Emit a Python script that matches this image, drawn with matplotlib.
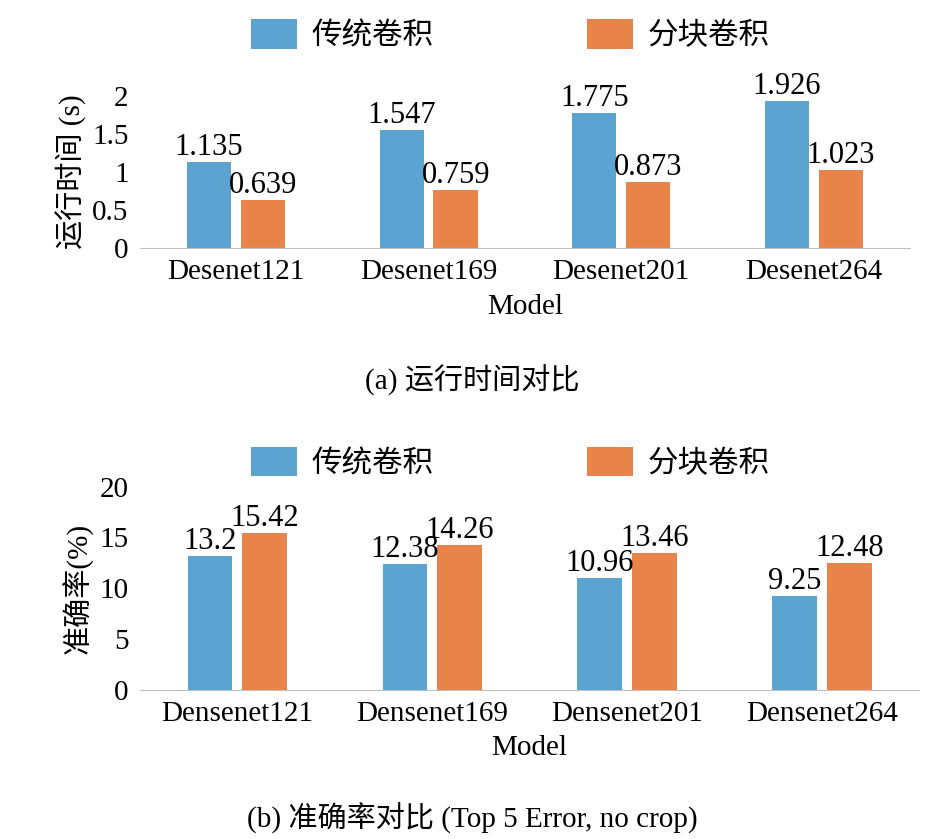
import matplotlib
matplotlib.use("Agg")
import matplotlib.pyplot as plt
import numpy as np

plt.rcParams['font.family'] = ['Liberation Serif', 'Noto Sans CJK SC']

models = ["Desenet121", "Desenet169", "Desenet201", "Desenet264"]
models_b = ["Densenet121", "Densenet169", "Densenet201", "Densenet264"]
time_trad = [1.135, 1.547, 1.775, 1.926]
time_block = [0.639, 0.759, 0.873, 1.023]
time_trad_lbl = ["1.135", "1.547", "1.775", "1.926"]
time_block_lbl = ["0.639", "0.759", "0.873", "1.023"]
acc_trad = [13.2, 12.38, 10.96, 9.25]
acc_block = [15.42, 14.26, 13.46, 12.48]
acc_trad_lbl = ["13.2", "12.38", "10.96", "9.25"]
acc_block_lbl = ["15.42", "14.26", "13.46", "12.48"]
series = ["传统卷积", "分块卷积"]
blue, orange = "#5BA3D1", "#E8844A"

fig = plt.figure(figsize=(9.45, 8.39), dpi=100)

def panel(rect, xl, a, b, al, bl, ylim, yticks, ylabel, caption, capy, legy):
    ax = fig.add_axes(rect)
    x = np.arange(len(xl))
    w, off = 0.23, 0.14
    r1 = ax.bar(x - off, a, w, color=blue, label=series[0])
    r2 = ax.bar(x + off, b, w, color=orange, label=series[1])
    ax.bar_label(r1, labels=al, fontsize=22, padding=0)
    ax.bar_label(r2, labels=bl, fontsize=22, padding=0)
    ax.set_xlim(-0.5, len(xl) - 0.5)
    ax.set_ylim(*ylim)
    ax.set_yticks(yticks)
    ax.set_yticklabels([f"{t:g}" for t in yticks])
    ax.set_xticks(x)
    ax.set_xticklabels(xl)
    ax.tick_params(axis='both', length=0, labelsize=21, pad=8)
    for s in ['top', 'right', 'left']:
        ax.spines[s].set_visible(False)
    ax.spines['bottom'].set_color('#BFBFBF')
    ax.set_ylabel(ylabel, fontsize=21)
    ax.set_xlabel("Model", fontsize=21, labelpad=6)
    fig.text(0.5, capy, caption, ha='center', va='center', fontsize=21)
    fig.legend(handles=[r1, r2], loc='center', bbox_to_anchor=(0.54, legy), ncol=2,
               frameon=False, fontsize=22, handlelength=1.5, handleheight=1.1,
               handletextpad=0.5, columnspacing=5)
    return ax

panel([0.148, 0.704, 0.815, 0.182], models, time_trad, time_block, time_trad_lbl, time_block_lbl,
      (0, 2), [0, 0.5, 1, 1.5, 2], "运行时间 (s)", "(a) 运行时间对比", 0.547, 0.958)
panel([0.148, 0.178, 0.825, 0.242], models_b, acc_trad, acc_block, acc_trad_lbl, acc_block_lbl,
      (0, 20), [0, 5, 10, 15, 20], "准确率(%)", "(b) 准确率对比 (Top 5 Error, no crop)", 0.024, 0.448)

fig.savefig("out.png", dpi=100)
